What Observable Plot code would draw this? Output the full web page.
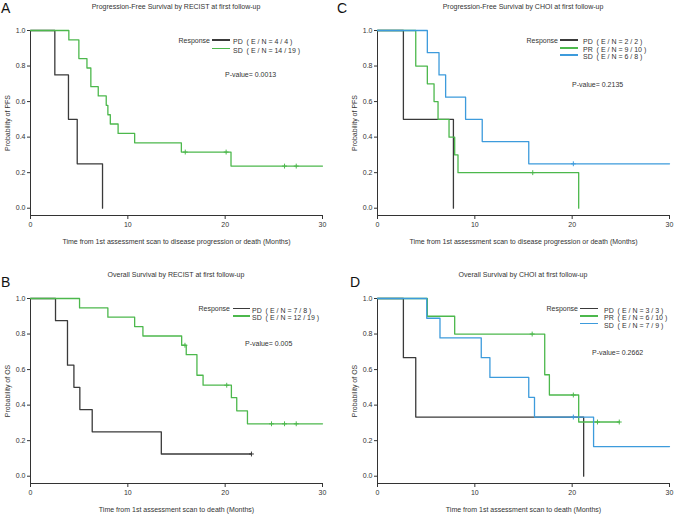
<!DOCTYPE html>
<html><head><meta charset="utf-8">
<script src="https://cdn.jsdelivr.net/npm/d3@7"></script>
<script src="https://cdn.jsdelivr.net/npm/@observablehq/plot@0.6"></script>
<style>
body{margin:0;background:#fff;font-family:Arial,"Liberation Sans",sans-serif;}
#root{position:relative;width:675px;height:514px;overflow:hidden;background:#fff}
.t{position:absolute;white-space:pre;color:#333;font-size:7px;line-height:7px;z-index:2}
.ln{position:absolute;height:1.5px;z-index:3}
svg{position:absolute;overflow:visible;z-index:1}
</style></head><body><div id="root"></div>
<script>
// ---------- data ----------
const xTicks = [0, 10, 20, 30];
const yTicks = [0, 0.2, 0.4, 0.6, 0.8, 1.0];
const groups = ["PD", "PR", "SD"];

// A: PFS by RECIST
const pfsRecistPD_t = [0, 2.5, 3.9, 4.8, 7.4];
const pfsRecistPD_s = [1, 0.75, 0.5, 0.25, 0];
const pfsRecistSD_t = [0, 3.94, 4.97, 5.8, 6.2, 6.96, 7.78, 7.95, 8.2, 9.0, 10.7, 15.5, 20.6, 30];
const pfsRecistSD_s = [1, 0.947, 0.842, 0.789, 0.684, 0.632, 0.579, 0.526, 0.474, 0.421, 0.368, 0.316, 0.237, 0.237];
const pfsRecistSD_ct = [15.9, 20.1, 26.1, 27.3];
const pfsRecistSD_cs = [0.316, 0.316, 0.237, 0.237];

// C: PFS by CHOI
const pfsChoiPD_t = [0, 2.66, 7.8];
const pfsChoiPD_s = [1, 0.5, 0];
const pfsChoiPR_t = [0, 3.93, 5.12, 5.81, 6.22, 7.35, 7.93, 8.27, 20.67];
const pfsChoiPR_s = [1, 0.8, 0.7, 0.6, 0.5, 0.4, 0.3, 0.2, 0];
const pfsChoiPR_ct = [15.95];
const pfsChoiPR_cs = [0.2];
const pfsChoiSD_t = [0, 5.12, 6.32, 7.0, 9.05, 10.76, 15.54, 30];
const pfsChoiSD_s = [1, 0.875, 0.75, 0.625, 0.5, 0.375, 0.25, 0.25];
const pfsChoiSD_ct = [20.12];
const pfsChoiSD_cs = [0.25];

// B: OS by RECIST
const osRecistPD_t = [0, 2.57, 3.8, 4.46, 5.07, 6.34, 13.44, 22.7];
const osRecistPD_s = [1, 0.875, 0.625, 0.5, 0.375, 0.25, 0.125, 0.125];
const osRecistPD_ct = [22.7];
const osRecistPD_cs = [0.125];
const osRecistSD_t = [0, 5.04, 7.95, 10.7, 11.55, 15.53, 16.0, 17.1, 17.73, 20.64, 21.19, 22.29, 30];
const osRecistSD_s = [1, 0.947, 0.895, 0.842, 0.789, 0.737, 0.684, 0.568, 0.512, 0.442, 0.368, 0.295, 0.295];
const osRecistSD_ct = [15.87, 20.16, 24.76, 26.1, 27.3];
const osRecistSD_cs = [0.737, 0.512, 0.295, 0.295, 0.295];

// D: OS by CHOI
const osChoiPD_t = [0, 2.66, 3.93, 21.18];
const osChoiPD_s = [1, 0.667, 0.333, 0];
const osChoiPR_t = [0, 5.12, 7.93, 17.18, 17.66, 20.67, 24.84];
const osChoiPR_s = [1, 0.9, 0.8, 0.571, 0.457, 0.305, 0.305];
const osChoiPR_ct = [15.89, 20.12, 22.6, 24.84];
const osChoiPR_cs = [0.8, 0.457, 0.305, 0.305];
const osChoiSD_t = [0, 5.06, 6.42, 10.66, 11.55, 15.54, 16.13, 22.2, 30];
const osChoiSD_s = [1, 0.889, 0.778, 0.667, 0.556, 0.444, 0.333, 0.167, 0.167];
const osChoiSD_ct = [20.12];
const osChoiSD_cs = [0.333];

// text
const titles = ["Progression-Free Survival by RECIST at first follow-up",
                "Progression-Free Survival by CHOI at first follow-up",
                "Overall Survival by RECIST at first follow-up",
                "Overall Survival by CHOI at first follow-up"];
const panelLetters = ["A", "C", "B", "D"];
const xLabels = ["Time from 1st assessment scan to disease progression or death (Months)",
                 "Time from 1st assessment scan to death (Months)"];
const yLabels = ["Probability of PFS", "Probability of OS"];
const legendA = ["PD  ( E / N = 4 / 4 )", "SD  ( E / N = 14 / 19 )"];
const legendC = ["PD  ( E / N = 2 / 2 )", "PR  ( E / N = 9 / 10 )", "SD  ( E / N = 6 / 8 )"];
const legendB = ["PD  ( E / N = 7 / 8 )", "SD  ( E / N = 12 / 19 )"];
const legendD = ["PD  ( E / N = 3 / 3 )", "PR  ( E / N = 6 / 10 )", "SD  ( E / N = 7 / 9 )"];
const pValues = ["P-value= 0.0013", "P-value= 0.2135", "P-value= 0.005", "P-value= 0.2662"];

const colors = {PD: "#3a3a3a", PR: "#4cb84c", SD_RECIST: "#4cb84c", SD_CHOI: "#3d9bdc"};

// ---------- drawing ----------
const root = document.getElementById("root");
const yMin = -0.041;

function txt(str, x, y, o = {}) {
  const d = document.createElement("div");
  d.className = "t";
  d.textContent = str;
  const fs = o.size || 7;
  d.style.fontSize = fs + "px";
  d.style.lineHeight = fs + "px";
  d.style.top = (y - fs / 2) + "px";
  if (o.anchor === "middle") { d.style.left = x + "px"; d.style.transform = "translateX(-50%)"; }
  else if (o.anchor === "end") { d.style.right = (675 - x) + "px"; }
  else d.style.left = x + "px";
  if (o.weight) d.style.fontWeight = o.weight;
  if (o.color) d.style.color = o.color;
  root.appendChild(d);
}
function legLine(x1, x2, y, color) {
  const d = document.createElement("div");
  d.className = "ln";
  d.style.left = x1 + "px"; d.style.width = (x2 - x1) + "px";
  d.style.top = (y - 0.75) + "px";
  d.style.background = color;
  root.appendChild(d);
}

function rows(t, s) { return t.map((v, i) => ({t: v, s: s[i]})); }

function panel({left, top, width, series, xLabel, yLabel}) {
  const marks = [
    Plot.ruleX([0], {y1: yMin, y2: 1, stroke: "#333", strokeWidth: 1}),
    Plot.ruleY([yMin], {x1: 0, x2: 30, stroke: "#333", strokeWidth: 1})
  ];
  for (const s of series) {
    marks.push(Plot.line(rows(s.t, s.s), {x: "t", y: "s", curve: "step-after", stroke: s.color, strokeWidth: 1.3}));
    if (s.ct) marks.push(Plot.dot(rows(s.ct, s.cs), {x: "t", y: "s", symbol: "plus", r: 1.7, stroke: s.color, strokeWidth: 1}));
  }
  const svg = Plot.plot({
    width, height: 250,
    marginLeft: 30, marginRight: width - 322, marginTop: 30, marginBottom: 35,
    x: {domain: [0, 30], ticks: xTicks, tickSize: 4, tickPadding: 3, label: xLabel, labelAnchor: "center", labelOffset: 28, labelArrow: "none"},
    y: {domain: [yMin, 1], ticks: yTicks, tickFormat: d3.format(".1f"), tickSize: 3, tickPadding: 2, label: yLabel, labelAnchor: "center", labelOffset: 25, labelArrow: "none"},
    style: {fontSize: "7px", fontFamily: "Arial, 'Liberation Sans', sans-serif", color: "#333", background: "transparent"},
    marks
  });
  svg.style.left = left + "px";
  svg.style.top = top + "px";
  root.appendChild(svg);
}

// Panel A
panel({left: 0, top: 0, width: 337, xLabel: xLabels[0], yLabel: yLabels[0], series: [
  {t: pfsRecistPD_t, s: pfsRecistPD_s, color: colors.PD},
  {t: pfsRecistSD_t, s: pfsRecistSD_s, ct: pfsRecistSD_ct, cs: pfsRecistSD_cs, color: colors.SD_RECIST}
]});
// Panel C
panel({left: 347, top: 0, width: 328, xLabel: xLabels[0], yLabel: yLabels[0], series: [
  {t: pfsChoiPD_t, s: pfsChoiPD_s, color: colors.PD},
  {t: pfsChoiPR_t, s: pfsChoiPR_s, ct: pfsChoiPR_ct, cs: pfsChoiPR_cs, color: colors.PR},
  {t: pfsChoiSD_t, s: pfsChoiSD_s, ct: pfsChoiSD_ct, cs: pfsChoiSD_cs, color: colors.SD_CHOI}
]});
// Panel B
panel({left: 0, top: 268, width: 337, xLabel: xLabels[1], yLabel: yLabels[1], series: [
  {t: osRecistPD_t, s: osRecistPD_s, ct: osRecistPD_ct, cs: osRecistPD_cs, color: colors.PD},
  {t: osRecistSD_t, s: osRecistSD_s, ct: osRecistSD_ct, cs: osRecistSD_cs, color: colors.SD_RECIST}
]});
// Panel D
panel({left: 347, top: 268, width: 328, xLabel: xLabels[1], yLabel: yLabels[1], series: [
  {t: osChoiPD_t, s: osChoiPD_s, color: colors.PD},
  {t: osChoiPR_t, s: osChoiPR_s, ct: osChoiPR_ct, cs: osChoiPR_cs, color: colors.PR},
  {t: osChoiSD_t, s: osChoiSD_s, ct: osChoiSD_ct, cs: osChoiSD_cs, color: colors.SD_CHOI}
]});

// titles & letters
txt(titles[0], 176, 6, {anchor: "middle"});
txt(titles[1], 523, 6, {anchor: "middle"});
txt(titles[2], 176, 274, {anchor: "middle"});
txt(titles[3], 523, 274, {anchor: "middle"});
txt(panelLetters[0], 1, 8, {size: 14, color: "#111"});
txt(panelLetters[1], 337, 8, {size: 14, color: "#111"});
txt(panelLetters[2], 1, 282, {size: 14, color: "#111"});
txt(panelLetters[3], 350, 282, {size: 14, color: "#111"});

// legends
function legend(respRight, lx1, lx2, tx, ys, labels, cols) {
  txt("Response", respRight, ys[0] - 1.5, {anchor: "end"});
  labels.forEach((l, i) => {
    legLine(lx1, lx2, ys[i] - 1.5, cols[i]);
    txt(l, tx, ys[i]);
  });
}
legend(210, 212, 230, 233, [41.7, 50], legendA, [colors.PD, colors.SD_RECIST]);
legend(558, 560, 578, 583, [41.7, 49.3, 56.7], legendC, [colors.PD, colors.PR, colors.SD_CHOI]);
legend(230, 233, 250, 252, [310, 317.5], legendB, [colors.PD, colors.SD_RECIST]);
legend(578, 580, 598, 604, [310, 317.3, 325], legendD, [colors.PD, colors.PR, colors.SD_CHOI]);

// p-values
txt(pValues[0], 225, 74);
txt(pValues[1], 572, 84);
txt(pValues[2], 245, 343);
txt(pValues[3], 592, 352);
</script></body></html>
